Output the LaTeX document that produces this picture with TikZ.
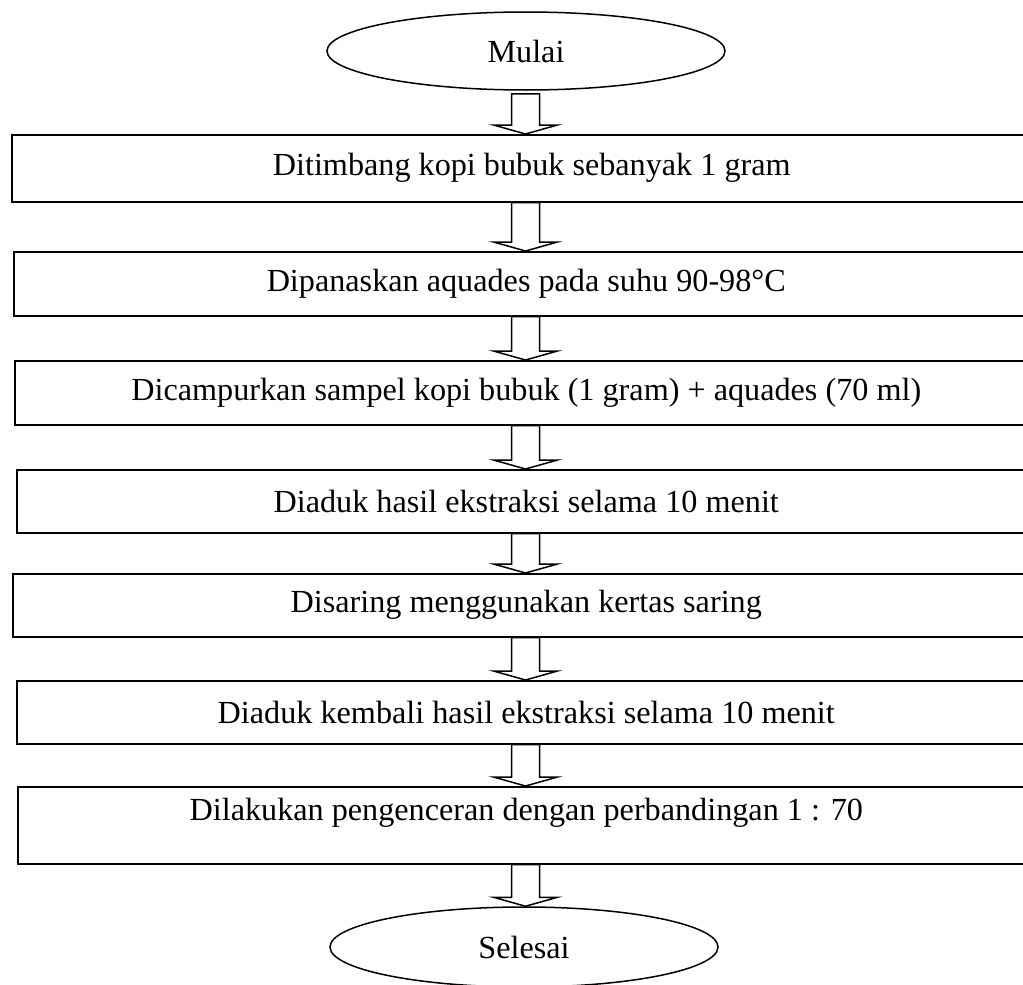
\documentclass[tikz,border=0pt]{standalone}
\usepackage{fontspec}
\setmainfont{Liberation Serif}
\usetikzlibrary{shapes.geometric,calc}
\newcommand\flowarr[3][0]{%
  \draw[blockarr] ($(#2.south -| ax)+(-14,#1)$) -- ($(#3.north -| ax)+(-14,-9)$) -- ($(#3.north -| ax)+(-32,-9)$) -- (#3.north -| ax) -- ($(#3.north -| ax)+(32,-9)$) -- ($(#3.north -| ax)+(14,-9)$) -- ($(#2.south -| ax)+(14,#1)$) -- cycle;}
\begin{document}
\begin{tikzpicture}[x=1pt,y=-1pt,
  every node/.style={font=\fontsize{32.2}{37}\selectfont},
  box/.style={draw, line width=1.5pt, rectangle, inner sep=0pt, anchor=north west},
  oval/.style={draw, ellipse, line width=1.5pt, inner sep=0pt},
  blockarr/.style={draw, line width=1.5pt, fill=white, line join=miter}]
\useasboundingbox (0,0) rectangle (1023,985);
\clip (0,0) rectangle (1023,985);
\coordinate (ax) at (525.5,0);
\node[oval, minimum width=398pt, minimum height=78pt] (start) at (526,51) {Mulai};
\node[box, minimum width=1040pt, minimum height=67pt] (b1) at (11,134) {Ditimbang kopi bubuk sebanyak 1 gram};
\node[box, minimum width=1025pt, minimum height=64pt] (b2) at (13,251) {Dipanaskan aquades pada suhu 90-98°C};
\node[box, minimum width=1023pt, minimum height=64pt] (b3) at (14,360) {Dicampurkan sampel kopi bubuk (1 gram) + aquades (70 ml)};
\node[box, minimum width=1019pt, minimum height=63pt] (b4) at (16,469) {Diaduk hasil ekstraksi selama 10 menit};
\node[box, minimum width=1027pt, minimum height=63pt] (b5) at (12,573) {Disaring menggunakan kertas saring};
\node[box, minimum width=1019pt, minimum height=63pt] (b6) at (16,680) {Diaduk kembali hasil ekstraksi selama 10 menit};
\node[box, minimum width=1017pt, minimum height=77pt, text depth=31pt] (b7) at (17,786) {Dilakukan pengenceran dengan perbandingan 1 : 70};
\node[oval, minimum width=388pt, minimum height=80pt] (end) at (524,947) {Selesai};
\flowarr[3]{start}{b1}
\flowarr{b1}{b2}
\flowarr{b2}{b3}
\flowarr{b3}{b4}
\flowarr{b4}{b5}
\flowarr{b5}{b6}
\flowarr{b6}{b7}
\flowarr{b7}{end}
\end{tikzpicture}
\end{document}
